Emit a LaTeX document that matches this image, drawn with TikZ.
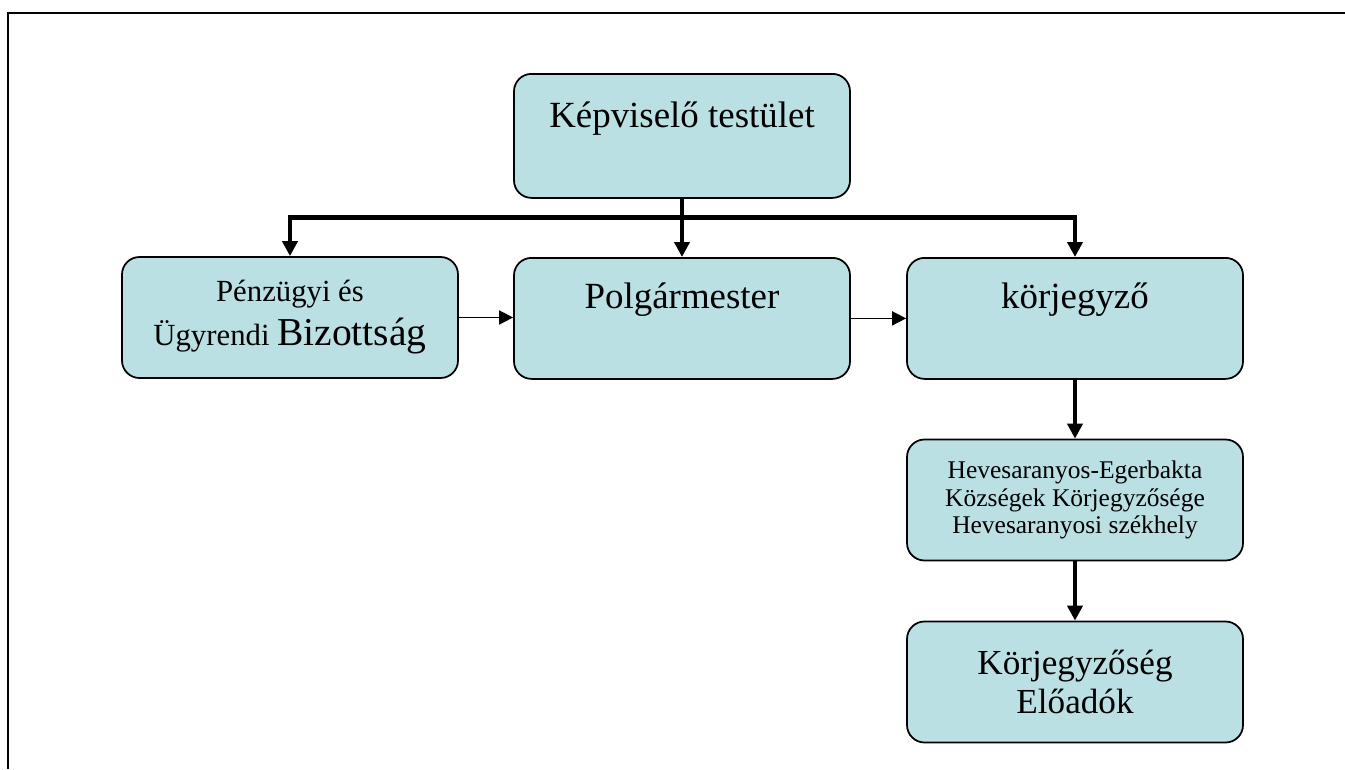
\documentclass[tikz,border=0pt]{standalone}
\usepackage{fontspec}
\setmainfont{Liberation Serif}
\usetikzlibrary{arrows.meta}
\definecolor{boxblue}{RGB}{187,224,227}

\begin{document}
\begin{tikzpicture}[
        blue box/.style={draw=black, line width=1pt, fill=boxblue, rounded corners=.35cm,
                         minimum width=6.72cm, inner sep=0pt, align=center},
        top text/.style={blue box, anchor=north, text height=1.02cm, text depth=1.4cm,
                         font=\fontsize{21}{24}\selectfont},
        mid text/.style={blue box, minimum height=2.42cm},
        thick arrow/.style={line width=2.8pt, -{Triangle[width=.3cm,length=.3cm]}},
        thin arrow/.style={line width=.9pt, -{Triangle[width=.28cm,length=.28cm]}}]
        \useasboundingbox (0,0) rectangle (26.9,-15.38);
        \draw[line width=1.4pt] (26.9,-.26) -- (.16,-.26) -- (.16,-15.38);

        % upper row
        \node[top text, text height=1.08cm] (kt) at (13.64,-1.46) {Képviselő testület};
        \node[top text] (pm) at (13.64,-5.14) {Polgármester};
        \node[mid text, font=\fontsize{17.5}{25}\selectfont] (pb) at (5.80,-6.35)
             {Pénzügyi és\\ Ügyrendi {\fontsize{22.5}{25}\selectfont Bizottság}};
        \node[top text] (kj) at (21.50,-5.14) {körjegyző};

        % lower column
        \node[mid text, font=\fontsize{14.5}{15.8}\selectfont] (hv) at (21.50,-10.00)
             {Hevesaranyos-Egerbakta\\ Községek Körjegyzősége\\ Hevesaranyosi székhely};
        \node[mid text, font=\fontsize{20}{22.5}\selectfont] (ke) at (21.50,-13.64)
             {Körjegyzőség\\ Előadók};

        % connectors
        \draw[thick arrow] (kt.south) -- (pm.north);
        \draw[thick arrow] (kt.south) -- ++(0,-.38) -| (pb.north);
        \draw[thick arrow] (kt.south) -- ++(0,-.38) -| (kj.north);
        \draw[thick arrow] (kj.south) -- (hv.north);
        \draw[thick arrow] (hv.south) -- (ke.north);
        \draw[thin arrow ] (pb.east)  -- (pb.east -| pm.west);
        \draw[thin arrow ] (pm.east)  -- (kj.west);
\end{tikzpicture}
\end{document}
